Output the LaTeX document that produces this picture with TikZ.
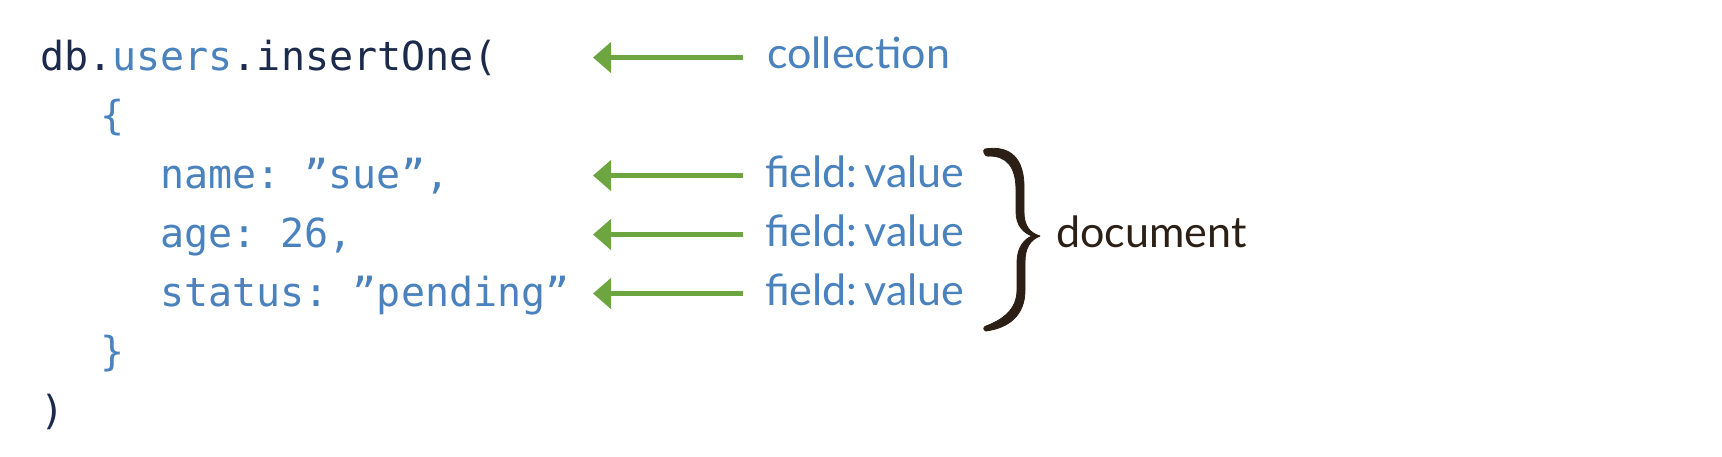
\documentclass[tikz,border=0pt]{standalone}
\usepackage{fontspec}
\setmonofont{DejaVu Sans Mono}
\newfontfamily\labelfont{Lato}
\usetikzlibrary{arrows.meta,calc}
\definecolor{codenavy}{HTML}{1C2B4B}
\definecolor{codeblue}{HTML}{4A82BE}
\definecolor{arrowgreen}{HTML}{6DA540}
\definecolor{docbrown}{HTML}{2C2016}
\begin{document}
\begin{tikzpicture}[x=1pt,y=-1pt,
  code/.style={anchor=base west, inner sep=0pt, font=\fontsize{40}{48}\selectfont\ttfamily, text=codeblue},
  lbl/.style={anchor=base west, inner sep=0pt, font=\fontsize{43}{50}\selectfont\labelfont, text=codeblue},
  arr/.style={draw=arrowgreen, line width=5pt, -{Triangle[length=18pt,width=30pt]}},
  bracefill/.style={fill=docbrown, draw=docbrown, line width=0.8pt, line join=round}]
\useasboundingbox[fill=white] (0,0) rectangle (1722,456);
% code lines
\node[code] (l1) at (40,70) {\textcolor{codenavy}{db.}users\textcolor{codenavy}{.insertOne(}};
\node[code] (l2) at (100,129) {\{};
\node[code] (l3) at (160,188) {name: ”sue”,};
\node[code] (l4) at (160,247) {age: 26,};
\node[code] (l5) at (160,306) {status: ”pending”};
\node[code] (l6) at (100,365) {\}};
\node[code, text=codenavy] (l7) at (40,424) {)};
% labels
\node[lbl] (c) at (767,68) {collection};
\node[lbl] (f1) at (765,187) {field:\hspace{7pt}value};
\node[lbl] (f2) at (765,246) {field:\hspace{7pt}value};
\node[lbl] (f3) at (765,305) {field:\hspace{7pt}value};
\node[lbl, text=docbrown] (doc) at (1056,247) {document};
% arrow tips
\coordinate (t0) at (593,57.5);
\coordinate (t1) at (593,175.5);
\coordinate (t2) at (593,234.5);
\coordinate (t3) at (593,293.5);
\draw[arr] ($(c.base west |- t0)+(-24,0)$) -- (t0);
\draw[arr] ($(f1.base west |- t1)+(-22,0)$) -- (t1);
\draw[arr] ($(f2.base west |- t2)+(-22,0)$) -- (t2);
\draw[arr] ($(f3.base west |- t3)+(-22,0)$) -- (t3);
% brace (calligraphic, filled)
\path[bracefill] (985,149) .. controls (1010,145) and (1025,158) .. (1024,190) -- (1024,212)
  .. controls (1024,226) and (1030,233) .. (1040,236)
  .. controls (1030,240) and (1025,248) .. (1025,262) -- (1025,290)
  .. controls (1025,316) and (1008,328) .. (986,331)
  .. controls (983,330) and (983,327) .. (986,326)
  .. controls (1002,320) and (1017,310) .. (1017,290) -- (1017,262)
  .. controls (1017,248) and (1024,239) .. (1032,236)
  .. controls (1024,233) and (1016,226) .. (1016,212) -- (1016,190)
  .. controls (1016,166) and (1006,156) .. (989,156)
  .. controls (984,156) and (982,150) .. (985,149) -- cycle;
\fill[docbrown] (988,152.5) circle (4.2pt);
\end{tikzpicture}
\end{document}
